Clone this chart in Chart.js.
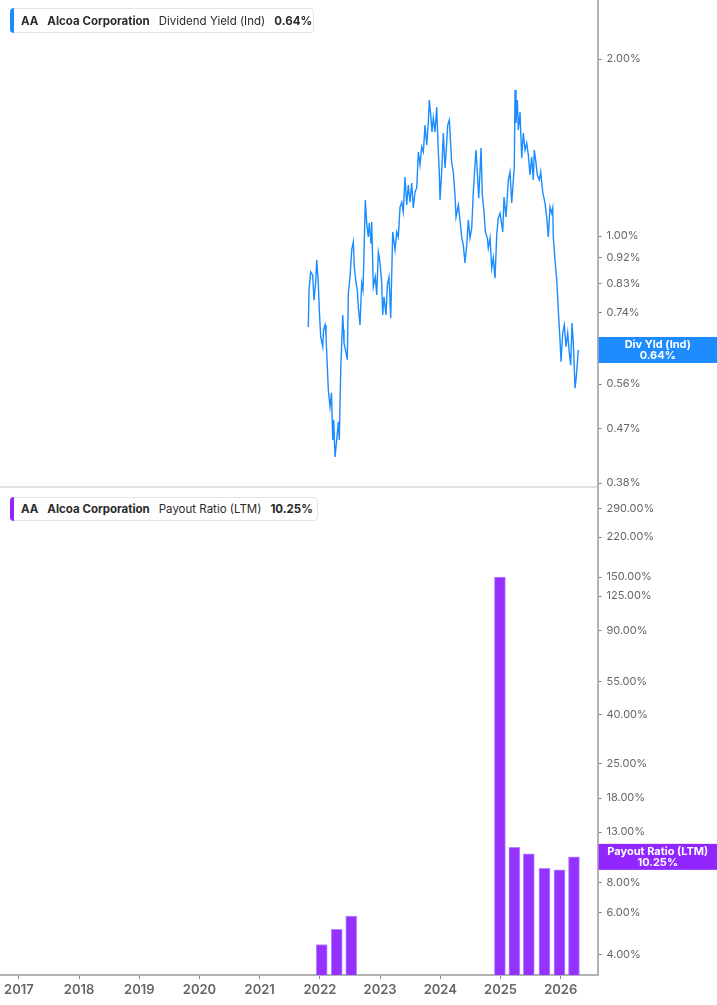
<!DOCTYPE html>
<html>
<head>
<meta charset="utf-8">
<script src="https://cdn.jsdelivr.net/npm/chart.js@4.4.1/dist/chart.umd.min.js"></script>
<style>
html,body{margin:0;padding:0;background:#fff;width:717px;height:1005px;overflow:hidden;font-family:Inter,'Noto Sans',sans-serif;}
#c1{position:absolute;left:0;top:0;}
#c2{position:absolute;left:0;top:487px;}
.legend{position:absolute;left:10px;background:#fff;border:1px solid #e3e3e3;border-radius:4px;display:flex;align-items:center;font-size:11.5px;color:#2a2a2a;white-space:nowrap;box-sizing:border-box;padding-left:10px;z-index:5;}
.legend .mark{position:absolute;left:-1px;top:-1px;bottom:-1px;width:4px;border-radius:4px 0 0 4px;}
.legend b{font-weight:700;}
.legend span{margin-right:9px;}
.legend span:last-child{margin-right:0;}
</style>
</head>
<body>
<canvas id="c1" width="717" height="500"></canvas>
<canvas id="c2" width="717" height="518"></canvas>
<div class="legend" style="top:8px;width:304px;height:25px;">
  <div class="mark" style="background:#1e8cff"></div>
  <span><b>AA</b></span><span><b>Alcoa Corporation</b></span><span>Dividend Yield (Ind)</span><span><b>0.64%</b></span>
</div>
<div class="legend" style="top:497px;width:308px;height:24px;">
  <div class="mark" style="background:#9126ff"></div>
  <span><b>AA</b></span><span><b>Alcoa Corporation</b></span><span>Payout Ratio (LTM)</span><span><b>10.25%</b></span>
</div>
<script>
// ---- data ----
const yearTicks = [2017,2018,2019,2020,2021,2022,2023,2024,2025,2026];
const yieldTicks = [2.00,1.00,0.92,0.83,0.74,0.65,0.56,0.47,0.38];
const payoutTicks = [290,220,150,125,90,55,40,25,18,13,10,8,6,4];

const yieldDates = [
2021.807,2021.819,2021.847,2021.880,2021.902,2021.930,2021.947,2021.973,2021.990,2022.013,
2022.047,2022.060,2022.085,2022.101,2022.113,2022.140,2022.154,2022.168,2022.193,2022.213,
2022.229,2022.251,2022.279,2022.306,2022.322,2022.346,2022.379,2022.392,2022.400,2022.434,
2022.455,2022.472,2022.500,2022.528,2022.555,2022.571,2022.600,2022.621,2022.638,2022.666,
2022.694,2022.716,2022.733,2022.754,2022.777,2022.804,2022.821,2022.849,2022.860,2022.887,
2022.920,2022.944,2022.970,2022.998,2023.027,2023.043,2023.065,2023.098,2023.120,2023.148,
2023.176,2023.209,2023.248,2023.276,2023.302,2023.331,
2023.359,2023.385,2023.414,2023.442,2023.468,2023.497,2023.525,2023.551,2023.580,2023.608,
2023.635,2023.663,2023.691,2023.718,2023.746,2023.774,2023.801,2023.817,2023.841,2023.862,
2023.884,2023.912,2023.940,2023.962,2023.983,2023.995,2024.023,2024.050,2024.078,2024.106,
2024.123,2024.150,2024.173,2024.189,2024.216,2024.244,2024.261,2024.299,2024.327,2024.355,
2024.382,2024.410,2024.439,2024.465,2024.493,2024.522,2024.548,2024.576,2024.593,2024.615,
2024.638,2024.659,2024.676,2024.698,2024.726,2024.748,2024.781,2024.797,2024.826,2024.854,
2024.880,2024.909,2024.937,2024.963,2024.992,
2025.037,2025.058,2025.091,2025.130,2025.158,2025.186,2025.213,2025.229,2025.241,2025.257,
2025.279,2025.296,2025.324,2025.352,2025.379,2025.407,2025.435,2025.462,2025.490,2025.518,
2025.545,2025.561,2025.590,2025.611,2025.645,2025.668,2025.701,2025.739,2025.767,2025.794,
2025.822,2025.850,2025.867,2025.877,2025.905,2025.934,2025.960,2025.988,2026.005,2026.033,
2026.060,2026.088,2026.116,2026.143,2026.166,2026.188,2026.209,2026.238,2026.254,2026.276,
2026.292
];
const yieldValues = [
0.700,0.809,0.869,0.858,0.778,0.835,0.910,0.832,0.748,0.674,
0.648,0.692,0.706,0.679,0.633,0.547,0.530,0.512,0.541,0.450,
0.487,0.421,0.450,0.483,0.450,0.592,0.734,0.692,0.658,0.633,
0.616,0.800,0.852,0.947,0.977,0.886,0.832,0.809,0.757,0.706,
0.832,0.809,0.936,1.151,1.052,0.996,1.052,0.973,1.056,0.819,
0.852,0.794,0.939,0.903,0.832,0.734,0.788,0.734,0.825,0.852,
0.725,1.016,0.947,1.016,0.996,1.120,
1.142,1.099,1.260,1.129,1.221,1.142,1.231,1.116,1.188,1.207,
1.390,1.321,1.417,1.390,1.544,1.428,1.563,1.703,1.606,1.503,
1.587,1.503,1.657,1.428,1.285,1.151,1.285,1.497,1.305,1.439,
1.544,1.575,1.428,1.331,1.285,1.174,1.077,1.129,1.065,0.996,
0.965,0.900,0.965,1.065,0.992,1.032,1.188,1.321,1.400,1.285,
1.160,1.285,1.411,1.174,1.099,1.016,0.992,0.954,0.992,0.882,
0.918,0.848,1.004,1.073,1.094,
1.016,1.165,1.077,1.245,1.285,1.138,1.245,1.310,1.772,1.557,
1.703,1.514,1.625,1.357,1.497,1.400,1.439,1.373,1.270,1.363,
1.245,1.400,1.331,1.270,1.245,1.285,1.188,1.137,1.077,0.996,
1.120,1.094,1.116,0.996,0.910,0.842,0.748,0.666,0.611,0.684,
0.706,0.648,0.684,0.632,0.603,0.711,0.658,0.551,0.569,0.608,
0.640
];

const payoutDates  = [2022.03,2022.28,2022.52,2024.99,2025.23,2025.47,2025.73,2025.98,2026.22];
const payoutValues = [4.42,5.12,5.81,150,11.24,10.54,9.19,9.04,10.25];

const yieldLast = 0.64;
const payoutLast = 10.25;

// ---- layout constants ----
const X_MIN = 2016.686, X_MAX = 2026.611;
const AXIS_W = 119.5;
const FONT = 'Inter';

function pctLabel(v){ return Number(v).toFixed(2) + '%'; }

function valueBox(color, line1, line2, value){
  return {
    id:'valueBox',
    afterDraw(chart){
      const ctx = chart.ctx;
      const y = chart.scales.y.getPixelForValue(value);
      const x0 = chart.chartArea.right + 1;
      ctx.save();
      ctx.fillStyle = color;
      ctx.fillRect(x0, y - 13, chart.width - x0, 26);
      ctx.fillStyle = '#fff';
      ctx.font = 'bold 11px ' + FONT;
      ctx.textAlign = 'center';
      ctx.textBaseline = 'middle';
      const cx = x0 + (chart.width - x0) / 2;
      ctx.fillText(line1, cx, y - 5.5);
      ctx.fillText(line2, cx, y + 6);
      ctx.restore();
    }
  };
}

const separator = {
  id:'separator',
  afterDraw(chart){
    const ctx = chart.ctx, a = chart.chartArea;
    ctx.save();
    ctx.strokeStyle = '#dadada';
    ctx.lineWidth = 1.5;
    ctx.beginPath();
    ctx.moveTo(0, a.bottom);
    ctx.lineTo(a.right, a.bottom);
    ctx.stroke();
    ctx.restore();
  }
};

function yAxis(min, max, tickVals){
  return {
    type:'logarithmic', position:'right', min:min, max:max,
    afterBuildTicks(s){ s.ticks = tickVals.map(v => ({value:v})); },
    afterFit(s){ s.width = AXIS_W; s.paddingTop = 0; s.paddingBottom = 0; },
    grid:{drawOnChartArea:false, drawTicks:true, tickLength:4, color:'#777', tickWidth:1},
    border:{display:true, color:'#b3b3b3', width:2},
    ticks:{color:'#666', font:{family:FONT, size:11}, padding:5, autoSkip:false, callback:pctLabel}
  };
}

new Chart(document.getElementById('c1'), {
  type:'line',
  data:{datasets:[{
    data: yieldDates.map((d,i) => ({x:d, y:yieldValues[i]})),
    borderColor:'#1a8cff', borderWidth:1.4, pointRadius:0, tension:0, fill:false
  }]},
  options:{
    responsive:false, animation:false,
    layout:{padding:{left:0, right:0, top:0, bottom:13}},
    plugins:{legend:{display:false}, tooltip:{enabled:false}},
    scales:{
      x:{type:'linear', min:X_MIN, max:X_MAX, display:false},
      y: yAxis(0.3742, 2.52, yieldTicks)
    }
  },
  plugins:[separator, valueBox('#1e8cff', 'Div Yld (Ind)', '0.64%', yieldLast)]
});

new Chart(document.getElementById('c2'), {
  type:'bar',
  data:{datasets:[{
    data: payoutDates.map((d,i) => ({x:d, y:payoutValues[i]})),
    backgroundColor:'#9632ff', borderColor:'#b987ff', borderWidth:1, barThickness:11
  }]},
  options:{
    responsive:false, animation:false,
    layout:{padding:0},
    plugins:{legend:{display:false}, tooltip:{enabled:false}},
    scales:{
      x:{
        type:'linear', min:X_MIN, max:X_MAX, offset:false, position:'bottom',
        afterBuildTicks(s){ s.ticks = yearTicks.map(v => ({value:v})); },
        afterFit(s){ s.height = 30; s.paddingLeft = 0; s.paddingRight = 0; },
        grid:{drawOnChartArea:false, drawTicks:true, tickLength:4, color:'#888', offset:false},
        border:{display:true, color:'#b3b3b3', width:2},
        ticks:{color:'#666', font:{family:FONT, size:13, weight:'600'}, padding:3, autoSkip:false, maxRotation:0, callback:v => String(v)}
      },
      y: yAxis(3.30, 356, payoutTicks)
    }
  },
  plugins:[valueBox('#9126ff', 'Payout Ratio (LTM)', '10.25%', payoutLast)]
});
</script>
</body>
</html>
